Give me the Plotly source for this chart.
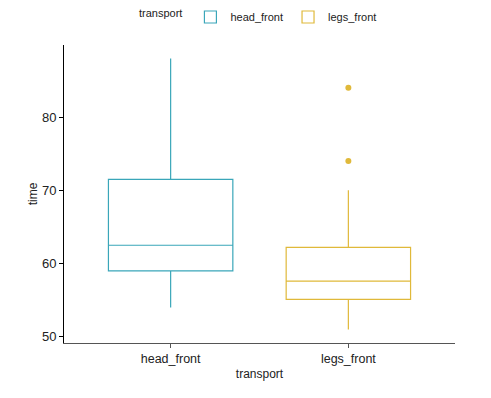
import plotly.graph_objects as go

categories = ["head_front", "legs_front"]
colors = ["#3AA6B9", "#E0B93A"]
q1 = [59.0, 55.1]
median = [62.5, 57.6]
q3 = [71.5, 62.2]
lowerfence = [54.0, 51.0]
upperfence = [88.0, 70.0]
outlier_cat = ["legs_front", "legs_front"]
outlier_vals = [84.0, 74.0]

fig = go.Figure()
for i, c in enumerate(categories):
    fig.add_trace(go.Box(
        x=[c], q1=[q1[i]], median=[median[i]], q3=[q3[i]],
        lowerfence=[lowerfence[i]], upperfence=[upperfence[i]],
        name=c, line=dict(color=colors[i], width=1.2),
        fillcolor="rgba(255,255,255,0)", whiskerwidth=0, width=0.7,
        boxpoints=False,
    ))
fig.add_trace(go.Scatter(
    x=outlier_cat, y=outlier_vals, mode="markers",
    marker=dict(color=colors[1], size=6), showlegend=False, hoverinfo="y",
))

# the page body has an 8px margin, so margins are reduced by 8 on left/top
fig.update_layout(
    width=491, height=398,
    margin=dict(l=56, r=44, t=37, b=63, autoexpand=False),
    plot_bgcolor="white", paper_bgcolor="white",
    font=dict(family="Liberation Sans, Arial, sans-serif", color="#222", size=12),
    legend=dict(orientation="h", x=0.5, xanchor="center", y=1.094, yanchor="middle",
                valign="middle",
                title=dict(text="transport", font=dict(size=11), side="left"),
                font=dict(size=11)),
    showlegend=True,
)
fig.update_xaxes(
    type="category", categoryorder="array", categoryarray=categories,
    range=[-0.6, 1.6], showline=True, linecolor="#555", linewidth=1,
    ticks="outside", ticklen=4, tickcolor="#555", showgrid=False, zeroline=False,
    title=dict(text="transport", font=dict(size=12), standoff=4),
    tickfont=dict(size=12.5),
)
fig.update_yaxes(
    range=[49.15, 89.85], tickvals=[50, 60, 70, 80],
    showline=True, linecolor="black", linewidth=1,
    ticks="outside", ticklen=4, tickcolor="black", showgrid=False, zeroline=False,
    title=dict(text="time", font=dict(size=12), standoff=1),
    tickfont=dict(size=13),
)

fig.write_html("out.html")
